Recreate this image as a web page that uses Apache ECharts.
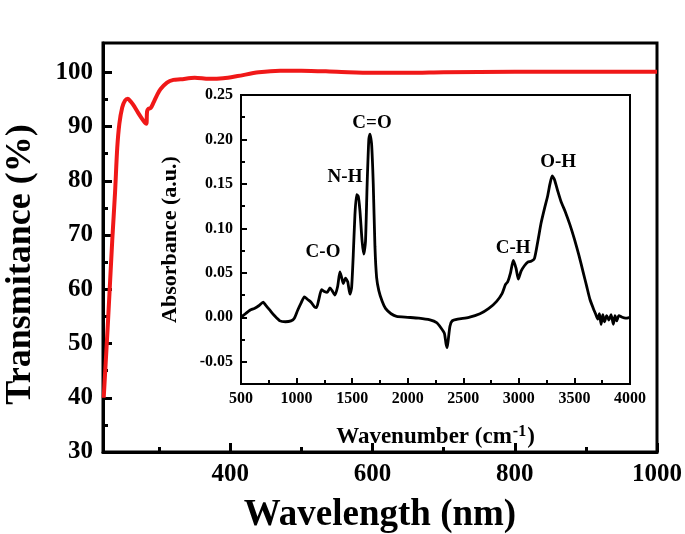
<!DOCTYPE html>
<html><head><meta charset="utf-8">
<script src="https://cdn.jsdelivr.net/npm/echarts@6/dist/echarts.min.js"></script>
<style>html,body{margin:0;padding:0;background:#fff}#c{width:685px;height:534px}</style>
</head><body><div id="c"></div>
<script>
// Main UV-Vis transmittance curve
const wavelength = [222,228,234,238,241,244,248,252,256,260,265,270,275,280,282,283,285,288,292,297,302,311,320,330,350,370,390,410,440,470,500,550,600,650,700,800,900,1000];
const transmittance = [40,54,69,78,86,90.5,93.5,94.8,95.1,94.6,93.7,92.6,91.6,90.7,90.5,92.8,93.3,93.4,94.4,95.8,96.9,98.1,98.6,98.7,99.0,98.8,98.9,99.3,100.0,100.3,100.3,100.1,99.9,99.9,100.0,100.1,100.1,100.1];

// Inset FTIR absorbance spectrum
const wavenumber = [500,540,580,620,660,700,720,760,800,850,900,950,980,1010,1040,1070,1100,1130,1160,1180,1200,1225,1250,1275,1300,1320,1345,1370,1390,1405,1420,1440,1460,1480,1495,1510,1525,1540,1555,1570,1590,1605,1620,1635,1650,1660,1675,1690,1705,1720,1740,1770,1800,1850,1900,2000,2100,2200,2260,2300,2330,2345,2355,2365,2380,2400,2450,2550,2650,2730,2800,2850,2880,2900,2925,2950,2975,2995,3020,3050,3080,3110,3140,3170,3200,3230,3260,3280,3300,3320,3350,3380,3420,3460,3500,3540,3580,3610,3640,3670,3690,3710,3725,3740,3755,3770,3790,3810,3830,3850,3865,3880,3900,3930,3960,4000];
const absorbance = [0.000,0.004,0.008,0.010,0.013,0.017,0.014,0.008,0.002,-0.004,-0.005,-0.004,-0.001,0.008,0.016,0.023,0.020,0.017,0.012,0.011,0.020,0.031,0.029,0.028,0.033,0.030,0.025,0.035,0.051,0.045,0.038,0.044,0.040,0.026,0.033,0.070,0.115,0.138,0.136,0.120,0.085,0.071,0.085,0.150,0.200,0.206,0.195,0.150,0.080,0.045,0.030,0.018,0.010,0.004,0.001,0.000,-0.001,-0.003,-0.006,-0.012,-0.018,-0.030,-0.034,-0.025,-0.010,-0.004,-0.002,0.000,0.004,0.010,0.018,0.027,0.037,0.040,0.050,0.064,0.055,0.043,0.052,0.058,0.062,0.063,0.066,0.085,0.106,0.122,0.137,0.150,0.159,0.155,0.142,0.130,0.118,0.104,0.088,0.070,0.050,0.035,0.020,0.010,0.004,-0.002,0.004,-0.008,0.003,-0.005,0.002,-0.003,0.003,-0.008,0.002,-0.004,0.002,0.000,-0.001,0.000];

// Peak annotations
const peakNames = ['C-O','N-H','C=O','C-H','O-H'];
const peakWavenumber = [1238,1436,1679,2948,3353];
const peakAbsorbance = [0.073,0.158,0.218,0.0775,0.175];

// Tick values
const mainXTicks = [400,600,800,1000];
const mainXMinor = [300,500,700,900];
const mainYTicks = [30,40,50,60,70,80,90,100];
const mainYMinor = [35,45,55,65,75,85,95];
const insetXTicks = [500,1000,1500,2000,2500,3000,3500,4000];
const insetXMinor = [750,1250,1750,2250,2750,3250,3750];
const insetYTicks = [-0.05,0,0.05,0.1,0.15,0.2,0.25];
const insetYMinor = [-0.025,0.025,0.075,0.125,0.175,0.225];

const FONT = 'Liberation Serif';
const mainRect = {left:103, top:43, width:554, height:409, outerBoundsMode:'none', containLabel:false};
const insetRect = {left:241, top:95, width:389, height:289, outerBoundsMode:'none', containLabel:false};

function baseAxis(extra){
  return Object.assign({
    type:'value', splitLine:{show:false},
    axisLine:{show:true, onZero:false, lineStyle:{color:'#000', width:3}},
  }, extra);
}
function minorAxis(gridIndex, min, max, values, len, w){
  return {type:'value', gridIndex, min, max, splitLine:{show:false},
    axisLine:{show:false, onZero:false}, axisLabel:{show:false},
    axisTick:{show:true, inside:true, customValues:values, length:len, lineStyle:{color:'#000', width:w}}};
}

const chart = echarts.init(document.getElementById('c'), null, {renderer:'canvas'});
chart.setOption({
  backgroundColor:'#fff',
  animation:false,
  grid:[
    Object.assign({show:true, borderColor:'#000', borderWidth:3, backgroundColor:'transparent'}, mainRect),
    Object.assign({show:false}, mainRect),
    Object.assign({show:true, borderColor:'#000', borderWidth:2, backgroundColor:'#fff'}, insetRect),
    Object.assign({show:false}, insetRect)
  ],
  xAxis:[
    baseAxis({gridIndex:0, min:221, max:1000,
      axisTick:{inside:true, customValues:mainXTicks, length:9, lineStyle:{color:'#000', width:3}},
      axisLabel:{customValues:mainXTicks, color:'#000', fontFamily:FONT, fontWeight:'bold', fontSize:25, margin:10,
        formatter:v=>String(v)},
      name:'Wavelength (nm)', nameLocation:'middle', nameGap:45,
      nameTextStyle:{color:'#000', fontFamily:FONT, fontWeight:'bold', fontSize:37}}),
    minorAxis(1, 221, 1000, mainXMinor, 5, 3),
    baseAxis({gridIndex:2, min:500, max:4000,
      axisLine:{show:true, onZero:false, lineStyle:{color:'#000', width:2}},
      axisTick:{inside:true, customValues:insetXTicks, length:6, lineStyle:{color:'#000', width:2}},
      axisLabel:{customValues:insetXTicks, color:'#000', fontFamily:FONT, fontWeight:'bold', fontSize:16, margin:7,
        formatter:v=>String(v)},
      name:'Wavenumber (cm{sup|-1})', nameLocation:'middle', nameGap:53,
      nameTextStyle:{color:'#000', fontFamily:FONT, fontWeight:'bold', fontSize:23, lineHeight:26, verticalAlign:'middle',
        rich:{sup:{fontFamily:FONT, fontWeight:'bold', fontSize:16, color:'#000', lineHeight:26, verticalAlign:'top', padding:[0,1,0,1]}}}}),
    minorAxis(3, 500, 4000, insetXMinor, 4, 2)
  ],
  yAxis:[
    baseAxis({gridIndex:0, min:30, max:105.4,
      axisTick:{inside:true, customValues:mainYTicks, length:9, lineStyle:{color:'#000', width:3}},
      axisLabel:{customValues:mainYTicks, color:'#000', fontFamily:FONT, fontWeight:'bold', fontSize:25, margin:10,
        formatter:v=>String(v)},
      name:'Transmitance (%)', nameLocation:'middle', nameGap:64, nameRotate:90,
      nameTextStyle:{color:'#000', fontFamily:FONT, fontWeight:'bold', fontSize:36, padding:[0,34,0,0]}}),
    minorAxis(1, 30, 105.4, mainYMinor, 5, 3),
    baseAxis({gridIndex:2, min:-0.075, max:0.25,
      axisLine:{show:true, onZero:false, lineStyle:{color:'#000', width:2}},
      axisTick:{inside:true, customValues:insetYTicks, length:6, lineStyle:{color:'#000', width:2}},
      axisLabel:{customValues:insetYTicks, color:'#000', fontFamily:FONT, fontWeight:'bold', fontSize:16, margin:8,
        formatter:v=>Number(v).toFixed(2)},
      name:'Absorbance (a.u.)', nameLocation:'middle', nameGap:60, nameRotate:90,
      nameTextStyle:{color:'#000', fontFamily:FONT, fontWeight:'bold', fontSize:22}}),
    minorAxis(3, -0.075, 0.25, insetYMinor, 4, 2)
  ],
  series:[
    {type:'line', xAxisIndex:0, yAxisIndex:0, showSymbol:false, smooth:0.3,
     lineStyle:{color:'#f01818', width:4}, data:wavelength.map((x,i)=>[x,transmittance[i]]), z:3},
    {type:'line', xAxisIndex:2, yAxisIndex:2, showSymbol:false, smooth:0.2,
     lineStyle:{color:'#000', width:2.8}, data:wavenumber.map((x,i)=>[x,absorbance[i]]), z:5},
    {type:'scatter', xAxisIndex:2, yAxisIndex:2, symbolSize:0, z:6, itemStyle:{color:'#000', opacity:1},
     data:peakNames.map((n,i)=>({value:[peakWavenumber[i],peakAbsorbance[i]], name:n})),
     label:{show:true, position:'inside', formatter:p=>p.name, color:'#000', opacity:1, textBorderWidth:0,
       fontFamily:FONT, fontWeight:'bold', fontSize:19}}
  ]
});
</script></body></html>
